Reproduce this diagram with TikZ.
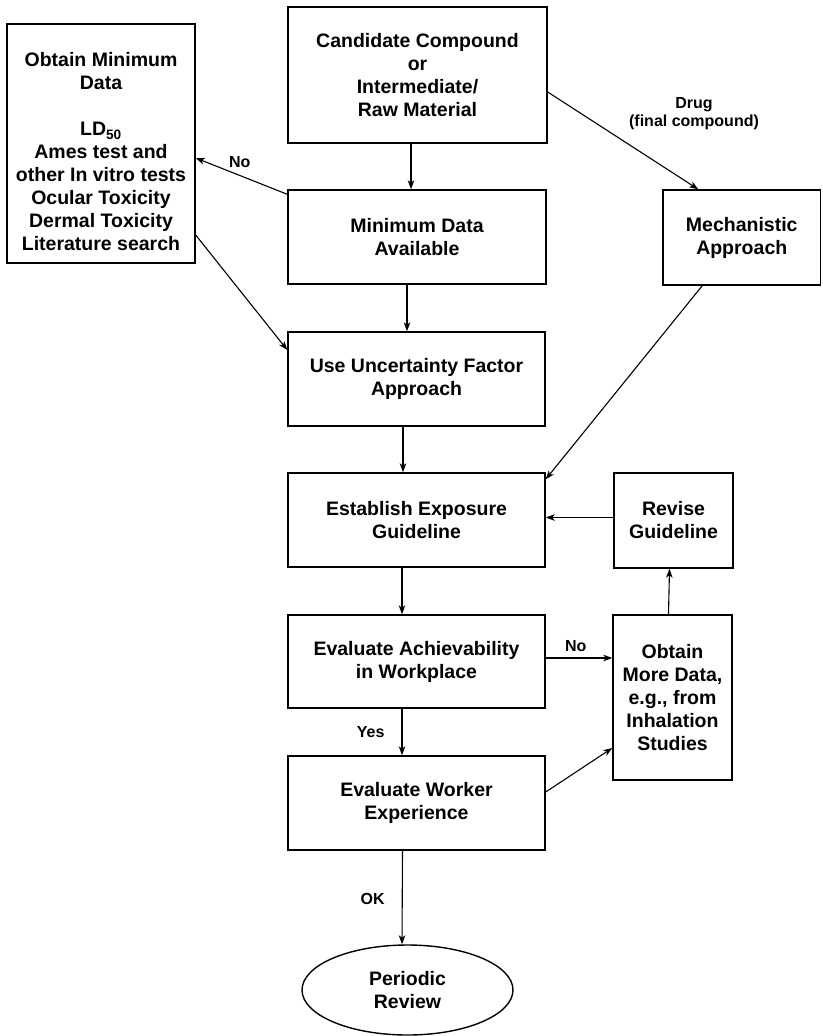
\documentclass[tikz,border=0pt]{standalone}
\usepackage{fontspec}
\setmainfont{Liberation Sans}
\usetikzlibrary{arrows.meta,shapes.geometric}
\tikzset{
  box/.style={draw, line width=1.4pt, rectangle, inner sep=0pt, align=center,
    font=\fontsize{19.5}{23}\selectfont\bfseries},
  oval/.style={draw, line width=1.4pt, ellipse, inner sep=0pt, align=center,
    font=\fontsize{19.5}{23}\selectfont\bfseries},
  txt/.style={inner sep=0pt, align=center, font=\fontsize{19.5}{23}\selectfont\bfseries},
  lbl/.style={inner sep=0pt, align=center, font=\fontsize{16}{18}\selectfont\bfseries},
  arr/.style={line width=1.1pt, -{Stealth[length=9pt,width=6.5pt,inset=2.5pt]}}
}
\begin{document}
\begin{tikzpicture}[x=1pt,y=-1pt]
\useasboundingbox[fill=white] (0,0) rectangle (822,1036);

\node[box, minimum width=259, minimum height=136] (cand) at (417.5,75)
  {Candidate Compound\\or\\Intermediate/\\Raw Material};
\node[box, minimum width=188, minimum height=239] (obt) at (101,143.5) {};
\node[txt] (obttxt) at (101,152)
  {Obtain Minimum\\Data\\[23pt]LD\textsubscript{50}\\Ames test and\\other In vitro tests\\Ocular Toxicity\\Dermal Toxicity\\Literature search};
\node[box, minimum width=258, minimum height=94] (min) at (417,237)
  {Minimum Data\\Available};
\node[box, minimum width=157.5, minimum height=95] (mech) at (741.75,237.5)
  {Mechanistic\\Approach};
\node[box, minimum width=257, minimum height=94] (use) at (416.5,379)
  {Use Uncertainty Factor\\Approach};
\node[box, minimum width=257, minimum height=94] (est) at (416.5,520)
  {Establish Exposure\\Guideline};
\node[box, minimum width=119, minimum height=95] (rev) at (673.5,520.5)
  {Revise\\Guideline};
\node[box, minimum width=257, minimum height=93] (ach) at (416.5,661.5)
  {Evaluate Achievability\\in Workplace};
\node[box, minimum width=119, minimum height=165] (more) at (672.5,697.5)
  {Obtain\\More Data,\\e.g., from\\Inhalation\\Studies};
\node[box, minimum width=257, minimum height=94] (work) at (416.5,803)
  {Evaluate Worker\\Experience};
\node[oval, minimum width=211, minimum height=90] (rev2) at (407.5,990)
  {Periodic\\Review};

% connectors
\draw[arr] ([xshift=-6.5pt]cand.south) -- ([xshift=-6pt]min.north);
\draw[arr] ([xshift=-10pt]min.south) -- ([xshift=-9.5pt]use.north);
\draw[arr] ([xshift=-13.5pt]use.south) -- ([xshift=-13.5pt]est.north);
\draw[arr] ([xshift=-14.5pt]est.south) -- ([xshift=-14.5pt]ach.north);
\draw[arr] ([xshift=-14.5pt]ach.south) -- node[lbl, pos=0.5, left=17pt] (yes) {Yes} ([xshift=-14.5pt]work.north);
\draw[arr] ([xshift=-14pt]work.south) -- node[lbl, pos=0.52, left=17pt] (ok) {OK} ([xshift=-5.5pt]rev2.north);

\draw[arr] ([yshift=-5pt]min.north west) -- node[lbl, pos=0.52, above=7pt] (no1) {No} ([yshift=-14.5pt]obt.east);
\draw[arr] ([yshift=-91.5pt]obt.east) -- ([yshift=29pt]use.west);

\draw[arr] ([yshift=-17pt]cand.east) -- ([xshift=-43.5pt]mech.north);
\node[lbl] (drug) at (694,114) {Drug\\(final compound)};
\draw[arr] ([xshift=-39.5pt]mech.south) -- ([yshift=-7pt]est.north east);

\draw[arr] ([yshift=3pt]rev.west) -- ([yshift=3pt]rev.west -| est.east);
\draw[arr] ([xshift=-4pt]more.north) -- ([xshift=-4pt]rev.south);
\draw[arr] ([yshift=3.5pt]ach.east) -- node[lbl, pos=0.45, above=6pt] (no2) {No} ([yshift=3.5pt]ach.east -| more.west);
\draw[arr] ([yshift=11pt]work.east) -- ([yshift=-50.5pt]more.west);
\end{tikzpicture}
\end{document}
